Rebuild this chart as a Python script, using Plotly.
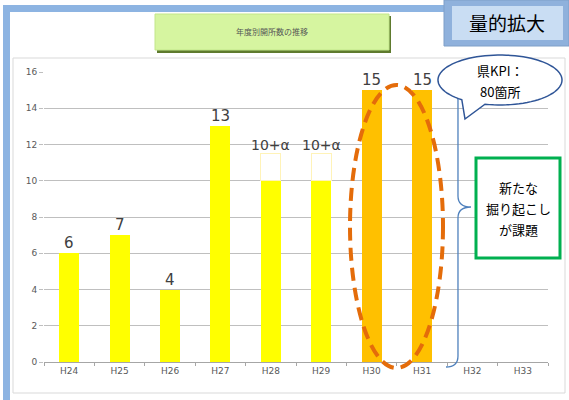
import numpy as np
import plotly.graph_objects as go

# data
categories = ["H24", "H25", "H26", "H27", "H28", "H29", "H30", "H31", "H32", "H33"]
counts = [6, 7, 4, 13, 10, 10, 15, 15, None, None]
alpha_part = [0, 0, 0, 0, 1.5, 1.5, 0, 0, 0, 0]  # the "+α" part (estimated)
bar_labels = ["6", "7", "4", "13", "10+α", "10+α", "15", "15", "", ""]
highlight = ["H30", "H31"]
y_ticks = [0, 2, 4, 6, 8, 10, 12, 14, 16]

W, H = 569, 400
L, R, T, B = 44, 548, 72, 362  # plot area in pixels


def px(x, y):
    """pixel position -> paper coordinates"""
    return (x - L) / (R - L), (B - y) / (B - T)


def rect(x0, y0, x1, y1, **kw):
    a, b = px(x0, y1)
    c, d = px(x1, y0)
    return dict(type="rect", xref="paper", yref="paper", x0=a, y0=b, x1=c, y1=d, **kw)


def path_from(points, close=False):
    s = ""
    for cmd, pts in points:
        if cmd == "L":
            s += " ".join("L%.4f,%.4f" % px(*p) for p in pts) + " "
        else:
            s += cmd + " ".join("%.4f,%.4f" % px(*p) for p in pts) + " "
    return s + ("Z" if close else "")


bar_colors = ["#FFC000" if c in highlight else "#FFFF00" for c in categories]

fig = go.Figure()
fig.add_trace(
    go.Bar(
        x=categories,
        y=counts,
        marker=dict(color=bar_colors, line=dict(width=0)),
        hoverinfo="skip",
    )
)
# pale "+α" segment on top
fig.add_trace(
    go.Bar(
        x=categories,
        y=[a if a else None for a in alpha_part],
        marker=dict(color="white", line=dict(color="#FFF3B8", width=1)),
        hoverinfo="skip",
    )
)

# data labels
for cat, v, a, lab in zip(categories, counts, alpha_part, bar_labels):
    if not lab:
        continue
    fig.add_annotation(
        x=cat, y=v + a, text=lab, showarrow=False, yanchor="bottom", yshift=-1,
        font=dict(size=15 if "α" not in lab else 14, color="#404040",
                  family="DejaVu Sans"),
    )

shapes = []
# outer blue frame
shapes.append(rect(3, 5, 446, 12, fillcolor="#8DB4E2", line=dict(width=0), layer="below"))
shapes.append(rect(3, 5, 10, 400, fillcolor="#8DB4E2", line=dict(width=0), layer="below"))
# chart area border
shapes.append(rect(13, 58, 565, 393, line=dict(color="#D9D9D9", width=1), layer="below"))
# title box (shadow + face)
shapes.append(rect(157, 16, 391, 53, fillcolor="#5E7A2E", line=dict(width=0)))
shapes.append(rect(155, 14, 389, 50, fillcolor="#D6F5A0", line=dict(color="#C2E68A", width=1)))
# badge top right
shapes.append(rect(444, 0, 569, 46, fillcolor="#8FB1DC", line=dict(color="#7F9FC8", width=1)))
shapes.append(rect(452, 6, 563, 40, fillcolor="#C9DDF3", line=dict(width=0)))

# orange dashed ellipse around H30-H31
e0 = px(350, 368)
e1 = px(443, 85)
shapes.append(dict(type="circle", xref="paper", yref="paper",
                   x0=e0[0], y0=e0[1], x1=e1[0], y1=e1[1],
                   line=dict(color="#E46C0A", width=4, dash="13px,7px")))

# curly brace
brace = [
    ("M", [(447, 88)]),
    ("Q", [(458, 89), (458, 100)]),
    ("L", [(458, 196)]),
    ("Q", [(458, 207), (471, 207)]),
    ("Q", [(458, 207), (458, 218)]),
    ("L", [(458, 356)]),
    ("Q", [(458, 367), (446, 367)]),
]
shapes.append(dict(type="path", xref="paper", yref="paper", path=path_from(brace),
                   line=dict(color="#4F81BD", width=1.3)))

# speech bubble
cx, cy, rx, ry = 500, 80, 62, 25
t = np.radians(np.arange(128, 128 + 337, 4))
pts = [(cx + rx * np.cos(a), cy + ry * np.sin(a)) for a in t]
pts.append((cx + rx * np.cos(np.radians(104)), cy + ry * np.sin(np.radians(104))))
pts.append((465, 119))
bubble = [("M", [pts[0]]), ("L", pts[1:])]
shapes.append(dict(type="path", xref="paper", yref="paper", path=path_from(bubble, True),
                   fillcolor="white", line=dict(color="#2F5597", width=1.5)))

# green box
shapes.append(rect(476, 158, 560, 258, fillcolor="white", line=dict(color="#00B050", width=3)))

fig.update_layout(shapes=shapes)


def note(x, y, text, size, color="black"):
    a, b = px(x, y)
    fig.add_annotation(xref="paper", yref="paper", x=a, y=b, text=text, showarrow=False,
                       xanchor="center", yanchor="middle",
                       font=dict(size=size, color=color, family="Noto Sans CJK JP"))


note(272, 32, "年度別開所数の推移", 8, "#555555")
note(507, 22, "量的拡大", 19)
note(500, 70, "県KPI：", 13)
note(500, 91, "80箇所", 13)
note(518, 187, "新たな", 13)
note(518, 208, "掘り起こし", 13)
note(518, 229, "が課題", 13)

fig.update_layout(
    width=W,
    height=H,
    margin=dict(l=L, r=W - R, t=T, b=H - B),
    paper_bgcolor="white",
    plot_bgcolor="white",
    barmode="stack",
    bargap=0.6,
    showlegend=False,
    font=dict(family="DejaVu Sans", color="#595959"),
)
fig.update_xaxes(
    type="category",
    range=[-0.5, 9.5],
    showline=True, linecolor="#A6A6A6", linewidth=1,
    ticks="outside", tickson="boundaries", ticklen=3, tickcolor="#A6A6A6",
    tickfont=dict(size=9, color="#595959"),
    showgrid=False,
)
fig.update_yaxes(
    range=[0, 16],
    tickvals=y_ticks,
    showgrid=True, gridcolor="#BFBFBF", gridwidth=1,
    ticks="outside", ticklen=4, tickcolor="#BFBFBF",
    tickfont=dict(size=9, color="#595959"),
    zeroline=False, showline=False,
)

fig.write_html("out.html", config={"displayModeBar": False},
               post_script="document.body.style.margin='0';")
